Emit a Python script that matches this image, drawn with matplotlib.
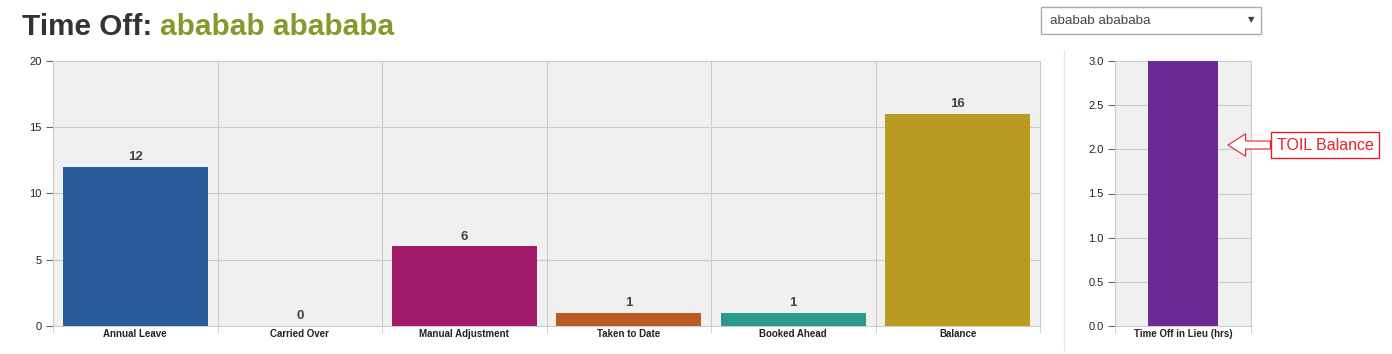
"""Time off summary: leave balances + TOIL hours."""
import numpy as np
import matplotlib.pyplot as plt
from matplotlib.patches import Rectangle

plt.rcParams["font.family"] = ["Liberation Sans", "DejaVu Sans"]

categories = ["Annual Leave", "Carried Over", "Manual Adjustment", "Taken to Date", "Booked Ahead", "Balance"]
values = [12, 0, 6, 1, 1, 16]
colors = ["#2b5c9a", "#f0f0f0", "#a31b6b", "#bb5b22", "#2a9a91", "#bb9a22"]
main_yticks = [0, 5, 10, 15, 20]

toil_label = ["Time Off in Lieu (hrs)"]
toil_value = [3.0]
toil_yticks = [0.0, 0.5, 1.0, 1.5, 2.0, 2.5, 3.0]

employee = "ababab abababa"

W, H = 1392, 354
fig = plt.figure(figsize=(W / 100, H / 100), dpi=100)


def fx(px):
    return px / W


def fy(py):
    return 1 - py / H


def style_axes(ax, n, ticks):
    ax.set_facecolor("#f0f0f0")
    for s in ax.spines.values():
        s.set_color("#cccccc")
    ax.set_xlim(-0.5, n - 0.5)
    ax.set_ylim(ticks[0], ticks[-1])
    ax.set_yticks(ticks)
    ax.set_xticks(np.arange(n + 1) - 0.5, minor=True)
    ax.grid(True, which="major", axis="y", color="#cccccc", linewidth=0.8)
    ax.grid(True, which="minor", axis="x", color="#cccccc", linewidth=0.8)
    ax.set_axisbelow(True)
    ax.tick_params(axis="y", length=5, color="#666666", labelsize=8, labelcolor="#222222", pad=3)
    ax.tick_params(axis="x", which="major", length=0, labelsize=7, pad=2)
    ax.tick_params(axis="x", which="minor", length=5, color="#cccccc")
    for lbl in ax.get_xticklabels():
        lbl.set_fontweight("bold")
        lbl.set_color("#222222")


# main chart
ax = fig.add_axes([fx(53), fy(326), fx(1040 - 53), (326 - 61) / H])
x = np.arange(len(categories))
ax.bar(x, values, width=0.88, color=colors, zorder=3)
ax.set_xticks(x)
ax.set_xticklabels(categories)
style_axes(ax, len(categories), main_yticks)
for xi, v in zip(x, values):
    ax.text(xi, v + 0.3, str(v), ha="center", va="bottom", fontsize=9.5,
            fontweight="bold", color="#444444")

# TOIL chart
ax2 = fig.add_axes([fx(1115), fy(326), fx(1251 - 1115), (326 - 61) / H])
ax2.bar([0], toil_value, width=0.51, color="#6b2a96", zorder=3)
ax2.set_xticks([0])
ax2.set_xticklabels(toil_label)
style_axes(ax2, 1, toil_yticks)
ax2.set_yticklabels([f"{t:.1f}" for t in toil_yticks])

# separator line
fig.add_artist(plt.Line2D([fx(1064), fx(1064)], [fy(350), fy(50)], color="#e6e6e6", linewidth=1))

# title
t1 = fig.text(fx(22), fy(35), "Time Off: ", fontsize=21.4, fontweight="bold", color="#333333",
              va="baseline", ha="left")
fig.canvas.draw()
bb = t1.get_window_extent()
fig.text(bb.x1 / W, fy(35), employee, fontsize=21.4, fontweight="bold", color="#86992a",
         va="baseline", ha="left")

# dropdown
fig.add_artist(Rectangle((fx(1041), fy(34)), fx(1261 - 1041), (34 - 7) / H,
                         transform=fig.transFigure, facecolor="white", edgecolor="#aaaaaa", linewidth=1))
fig.text(fx(1050), fy(21), employee, fontsize=9.6, color="#444444", va="center", ha="left")
fig.text(fx(1251), fy(20), "\u25bc", fontsize=6, color="#444444", va="center", ha="center",
         family="DejaVu Sans")

# annotation
ax2.annotate("TOIL Balance", xy=(1228, H - 145), xycoords="figure pixels",
             xytext=(1325, H - 145), textcoords="figure pixels",
             fontsize=11.5, color="#e8202a", ha="center", va="center",
             bbox=dict(boxstyle="square,pad=0.35", fc="white", ec="#e8202a", lw=1),
             arrowprops=dict(arrowstyle="simple,head_length=1.1,head_width=1.4,tail_width=0.5",
                             fc="white", ec="#e8202a", lw=0.8, shrinkA=0, shrinkB=0))

fig.savefig("out.png", dpi=100)
